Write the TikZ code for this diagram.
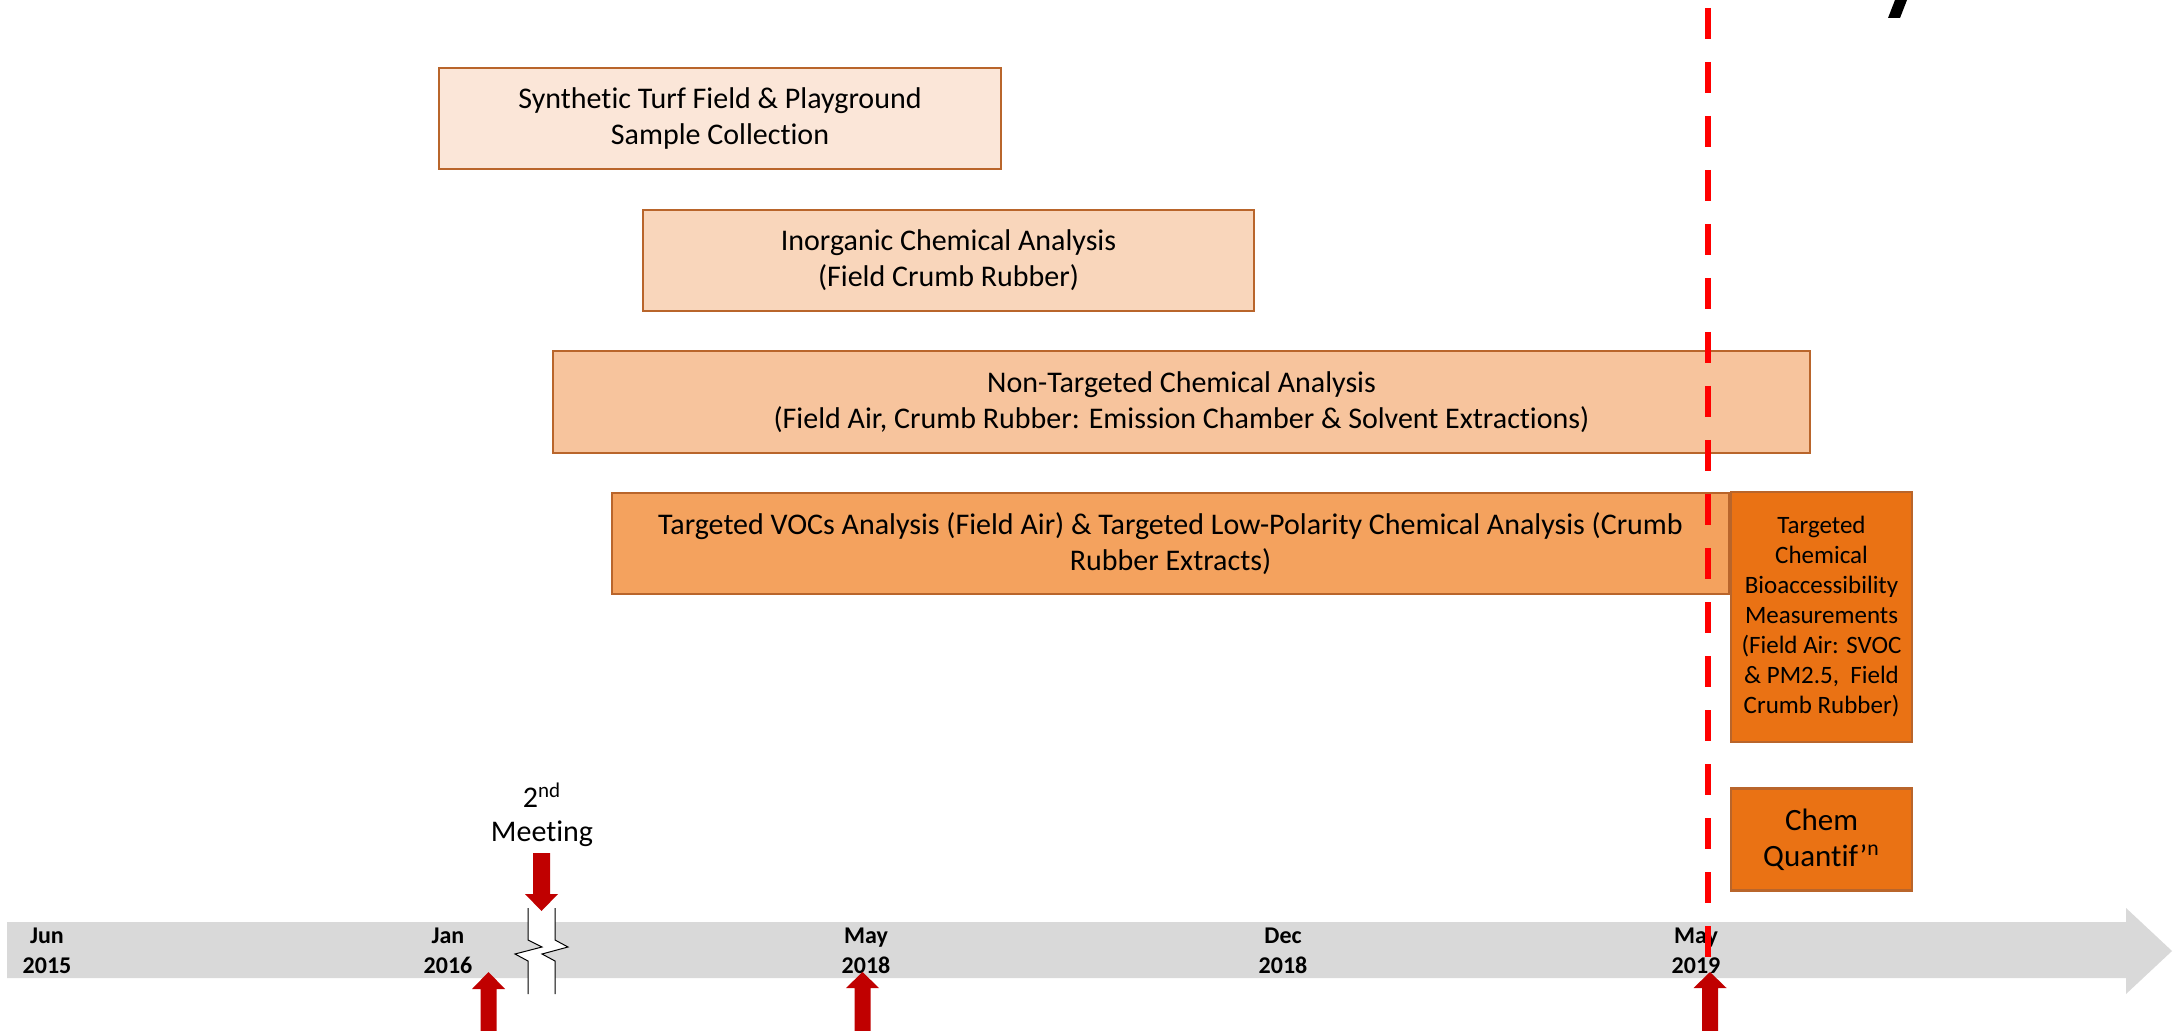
\documentclass[tikz,border=0pt]{standalone}
\usepackage{fontspec}
\setmainfont{Carlito}[Ligatures=CommonOff]
\usepackage{tikz}
\usetikzlibrary{positioning}
\definecolor{phaseA}{HTML}{FBE6D8}
\definecolor{phaseB}{HTML}{F9D6BB}
\definecolor{phaseC}{HTML}{F7C49D}
\definecolor{phaseD}{HTML}{F4A25E}
\definecolor{phaseE}{HTML}{EA7214}
\definecolor{edgebrown}{HTML}{B9652B}
\definecolor{markred}{HTML}{C00000}
\definecolor{nowred}{HTML}{FF0000}
\definecolor{timegray}{HTML}{D9D9D9}

\begin{document}
\begin{tikzpicture}[x=0.5pt, y=-0.5pt]
\tikzstyle{phase}=[rectangle, draw=edgebrown, line width=1.2pt, inner sep=0pt, align=center, font=\fontsize{15}{18}\selectfont]
\tikzstyle{late}=[phase, fill=phaseE, minimum width=90.5pt]
\tikzstyle{datelbl}=[align=center, font=\bfseries\fontsize{12}{15}\selectfont]
\tikzstyle{marker}=[fill=markred]
\tikzstyle{cutline}=[draw=black, line width=0.5pt]
\tikzstyle{nowline}=[draw=nowred, line width=3pt, dash pattern=on 15.5pt off 11.5pt, dash phase=23pt]

  \useasboundingbox (0,0) rectangle (2177,1031);

  \node[phase, fill=phaseA, minimum width=281pt,   minimum height=50.5pt] (sample)  at (720,118.5)    {Synthetic Turf Field \& Playground\\Sample Collection};
  \node[phase, fill=phaseB, minimum width=305.5pt, minimum height=50.5pt] (inorg)   at (948.5,260.5)  {Inorganic Chemical Analysis\\(Field Crumb Rubber)};
  \node[phase, fill=phaseC, minimum width=628.5pt, minimum height=51pt]   (nontarg) at (1181.5,402)   {Non-Targeted Chemical Analysis\\(Field Air, Crumb Rubber: Emission Chamber \& Solvent Extractions)};
  \node[phase, fill=phaseD, minimum width=558.5pt, minimum height=50.5pt] (target)  at (1170.5,543.5) {Targeted VOCs Analysis (Field Air) \& Targeted Low-Polarity Chemical Analysis (Crumb\\Rubber Extracts)};
  \node[late, minimum height=125pt, font=\fontsize{12.5}{15}\selectfont] (bio) at (1821.5,617) {Targeted\\Chemical\\Bioaccessibility\\Measurements\\(Field Air: SVOC\\\& PM2.5,~ Field\\Crumb Rubber)};
  \node[late, minimum height=51pt, font=\fontsize{15.5}{18}\selectfont] (quant) [below=22pt of bio] {Chem\\Quantif’\textsuperscript{n}};

  \fill[timegray] (7,922) -- (2126,922) -- (2126,908) -- (2172,951) -- (2126,994) -- (2126,978) -- (7,978) -- cycle;

  \node[datelbl] (jun15) at (47,951)   {Jun\\2015};
  \node[datelbl] (jan16) at (448,951)  {Jan\\2016};
  \node[datelbl] (may18) at (866,951)  {May\\2018};
  \node[datelbl] (dec18) at (1283,951) {Dec\\2018};
  \node[datelbl] (may19) at (1696,951) {May\\2019};

  \fill[white] (528,908) -- (528,940) -- (542,947) -- (515,954) -- (528,961) -- (528,994) -- (555,994) -- (555,961) -- (542,954) -- (568,947) -- (555,940) -- (555,908) -- cycle;
  \draw[cutline] (528,908) -- (528,940) -- (542,947) -- (515,954) -- (528,961) -- (528,994);
  \draw[cutline] (555,908) -- (555,940) -- (568,947) -- (542,954) -- (555,961) -- (555,994);

  \node[align=center, font=\fontsize{15}{17}\selectfont] (meeting) at (542,815) {2\textsuperscript{nd}\\Meeting};

  \draw[nowline] (1708,0) -- (1708,1031);

  \fill[marker] (533,853) -- (550,853) -- (550,894) -- (558,894) -- (541.5,911) -- (525,894) -- (533,894) -- cycle;
  \fill[marker] (480.5,1031) -- (480.5,989) -- (472,989) -- (488.5,972) -- (505,989) -- (496.5,989) -- (496.5,1031) -- cycle;
  \fill[marker] (854.5,1031) -- (854.5,988) -- (846,988) -- (862.5,972) -- (879,988) -- (870.5,988) -- (870.5,1031) -- cycle;
  \fill[marker] (1702,1031) -- (1702,988) -- (1693.5,988) -- (1710,972) -- (1726.5,988) -- (1718,988) -- (1718,1031) -- cycle;

  \fill (1888,18) -- (1895,0) -- (1907,0) -- (1900,18) -- cycle;

\end{tikzpicture}
\end{document}
